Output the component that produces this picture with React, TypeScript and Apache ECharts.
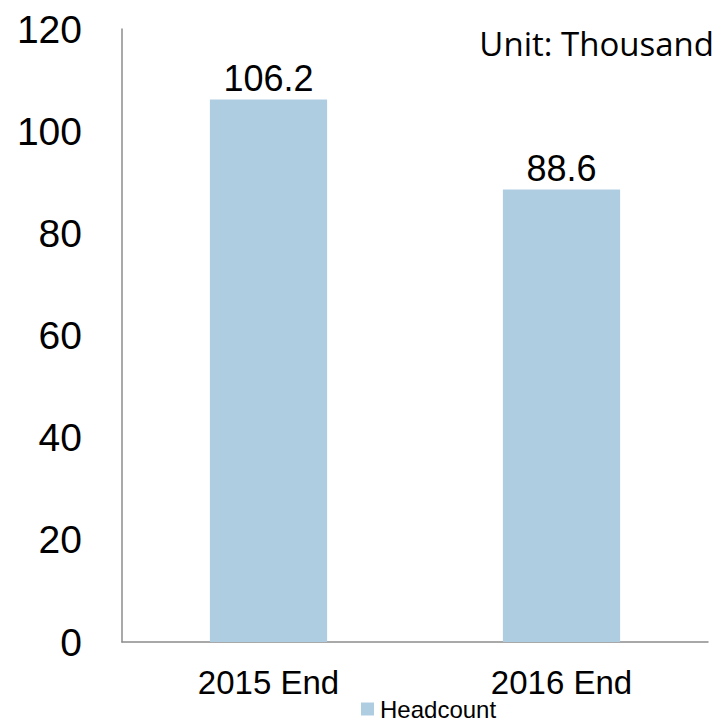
import React, { useEffect, useRef } from "react";
import * as echarts from "echarts";

const categories = ["2015 End", "2016 End"];
const headcount = [106.2, 88.6];
const seriesName = "Headcount";
const unitText = "Unit: Thousand";

export default function App() {
  const ref = useRef<HTMLDivElement>(null);
  useEffect(() => {
    if (!ref.current) return;
    const chart = echarts.init(ref.current, null, { renderer: "svg" });
    const axisColor = "#8c8c8c";
    const font = "Liberation Sans, Arial, sans-serif";
    chart.setOption({
      animation: false,
      backgroundColor: "#ffffff",
      grid: { left: 122, top: 29, right: 11, bottom: 82, containLabel: false },
      legend: {
        data: [seriesName],
        left: 361,
        top: 697,
        itemWidth: 13,
        itemHeight: 13,
        padding: 0,
        icon: "rect",
        textStyle: {
          fontSize: 24,
          color: "#000",
          fontFamily: font,
          padding: [0, 0, 0, 1],
        },
      },
      xAxis: {
        type: "category",
        data: categories,
        axisLine: { show: true, lineStyle: { color: axisColor, width: 1.5 } },
        axisTick: { show: false },
        axisLabel: { fontSize: 33, color: "#000", fontFamily: font, margin: 24 },
        splitLine: { show: false },
      },
      yAxis: {
        type: "value",
        min: 0,
        max: 120,
        interval: 20,
        axisLine: { show: true, lineStyle: { color: axisColor, width: 1.5 } },
        axisTick: { show: false },
        splitLine: { show: false },
        axisLabel: { fontSize: 39, color: "#000", fontFamily: font, margin: 40 },
      },
      series: [
        {
          name: seriesName,
          type: "bar",
          data: headcount,
          barWidth: "40%",
          itemStyle: { color: "#AFCDE1" },
          label: {
            show: true,
            position: "top",
            distance: 3,
            fontSize: 36,
            color: "#000",
            fontFamily: font,
            formatter: (p: any) => p.value.toFixed(1),
          },
        },
      ],
      graphic: [
        {
          type: "text",
          right: 5,
          top: 27,
          style: {
            text: unitText,
            fontSize: 33,
            fontFamily: "Open Sans, Noto Sans, sans-serif",
            fill: "#000",
          },
        },
      ],
    });
    return () => chart.dispose();
  }, []);
  return (
    <div
      ref={ref}
      style={{ position: "fixed", left: 0, top: 0, width: 719, height: 724 }}
    />
  );
}
